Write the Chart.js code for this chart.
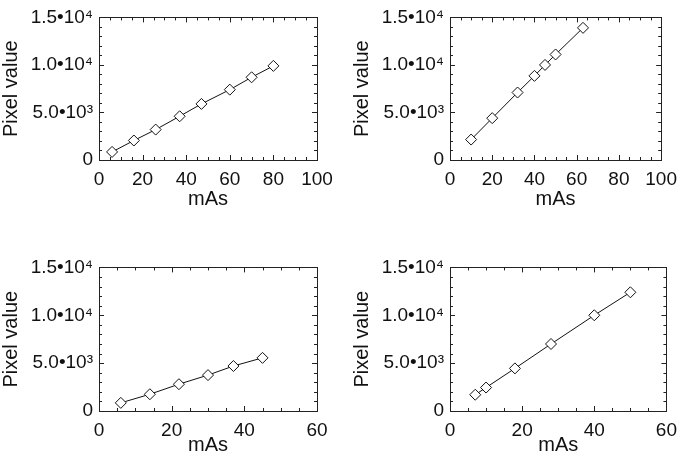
<!DOCTYPE html>
<html>
<head>
<meta charset="utf-8">
<script src="https://cdn.jsdelivr.net/npm/chart.js@4.4.1/dist/chart.umd.min.js"></script>
<style>
  html, body { margin: 0; padding: 0; background: #fff; overflow: hidden; }
  body { width: 685px; height: 461px; position: relative; }
  canvas { position: absolute; }
</style>
</head>
<body>
<canvas id="c1" width="342" height="230" style="left:0;top:0"></canvas>
<canvas id="c2" width="334" height="230" style="left:351px;top:0"></canvas>
<canvas id="c3" width="342" height="231" style="left:0;top:250px"></canvas>
<canvas id="c4" width="334" height="231" style="left:351px;top:250px"></canvas>
<script>
// measured points, one array pair per panel
const mas1 = [6, 16, 26, 37, 47, 60, 70, 80];
const pix1 = [850, 2050, 3200, 4600, 5900, 7400, 8700, 9900];

const mas2 = [10, 20, 32, 40, 45, 50, 63];
const pix2 = [2150, 4400, 7100, 8850, 10000, 11100, 13900];

const mas3 = [6, 14, 22, 30, 37, 45];
const pix3 = [850, 1750, 2800, 3750, 4700, 5550];

const mas4 = [7, 10, 18, 28, 40, 50];
const pix4 = [1700, 2450, 4450, 7000, 10000, 12400];

const yTickValues = [0, 5000, 10000, 15000];
const yTickLabels = ['0', '5.0\u202210\u00b3', '1.0\u202210\u2074', '1.5\u202210\u2074'];

const xTitle = 'mAs';
const yTitle = 'Pixel value';

const FAMILY = '"Liberation Sans", Helvetica, Arial, sans-serif';
const TICK_FONT = { family: FAMILY, size: 19 };
const TITLE_FONT = { family: FAMILY, size: 20 };
const INK = '#111';

// IDL style box with inward major/minor ticks on all sides
const boxTicks = {
    id: 'boxTicks',
    afterDatasetsDraw(chart, args, opts) {
        const { ctx, chartArea: a, scales: { x, y } } = chart;
        ctx.save();
        ctx.strokeStyle = '#222';
        ctx.lineWidth = 1;
        ctx.strokeRect(Math.round(a.left) + 0.5, Math.round(a.top) + 0.5,
            Math.round(a.right - a.left), Math.round(a.bottom - a.top));
        ctx.beginPath();
        for (let v = x.min; v <= x.max + 1e-6; v += opts.xMinor) {
            const px = Math.round(x.getPixelForValue(v)) + 0.5;
            const len = Math.abs(v % opts.xMajor) < 1e-6 ? 5 : 3;
            ctx.moveTo(px, a.bottom); ctx.lineTo(px, a.bottom - len);
            ctx.moveTo(px, a.top); ctx.lineTo(px, a.top + len);
        }
        for (let v = y.min; v <= y.max + 1e-6; v += opts.yMinor) {
            const py = Math.round(y.getPixelForValue(v)) + 0.5;
            const len = Math.abs(v % opts.yMajor) < 1e-6 ? 5 : 3;
            ctx.moveTo(a.left, py); ctx.lineTo(a.left + len, py);
            ctx.moveTo(a.right, py); ctx.lineTo(a.right - len, py);
        }
        ctx.stroke();
        ctx.restore();
    }
};

function makePanel(id, mas, pix, xMax, padRight, titlePad) {
    const ctx = document.getElementById(id).getContext('2d');
    return new Chart(ctx, {
        type: 'scatter',
        data: {
            datasets: [{
                data: mas.map((m, i) => ({ x: m, y: pix[i] })),
                showLine: true,
                borderColor: INK,
                borderWidth: 1,
                tension: 0,
                pointStyle: 'rectRot',
                pointRadius: 5.5,
                pointBorderWidth: 1,
                pointBorderColor: INK,
                pointBackgroundColor: '#fff'
            }]
        },
        options: {
            responsive: false,
            animation: false,
            layout: { padding: { top: 7, right: padRight, left: 0, bottom: 0 } },
            plugins: {
                legend: { display: false },
                tooltip: { enabled: false },
                boxTicks: { xMajor: 20, xMinor: 5, yMajor: 5000, yMinor: 1000 }
            },
            scales: {
                x: {
                    type: 'linear',
                    min: 0,
                    max: xMax,
                    afterFit: scale => { scale.height = 70; },
                    grid: { display: false, drawTicks: false },
                    border: { display: false },
                    ticks: { stepSize: 20, padding: 8, color: INK, font: TICK_FONT, maxRotation: 0 },
                    title: { display: true, text: xTitle, color: INK, font: TITLE_FONT,
                             padding: { top: 0, bottom: titlePad } }
                },
                y: {
                    type: 'linear',
                    min: 0,
                    max: 15000,
                    afterFit: scale => { scale.width = 99; },
                    grid: { display: false, drawTicks: false },
                    border: { display: false },
                    ticks: {
                        stepSize: 5000,
                        padding: 6,
                        color: INK,
                        font: TICK_FONT,
                        callback: v => yTickLabels[yTickValues.indexOf(v)]
                    },
                    title: { display: true, text: yTitle, color: INK, font: TITLE_FONT,
                             padding: { top: -1, bottom: 0 } }
                }
            }
        },
        plugins: [boxTicks]
    });
}

makePanel('c1', mas1, pix1, 100, 25, 19);
makePanel('c2', mas2, pix2, 100, 17, 19);
makePanel('c3', mas3, pix3, 60, 25, 24);
makePanel('c4', mas4, pix4, 60, 17, 24);
</script>
</body>
</html>
